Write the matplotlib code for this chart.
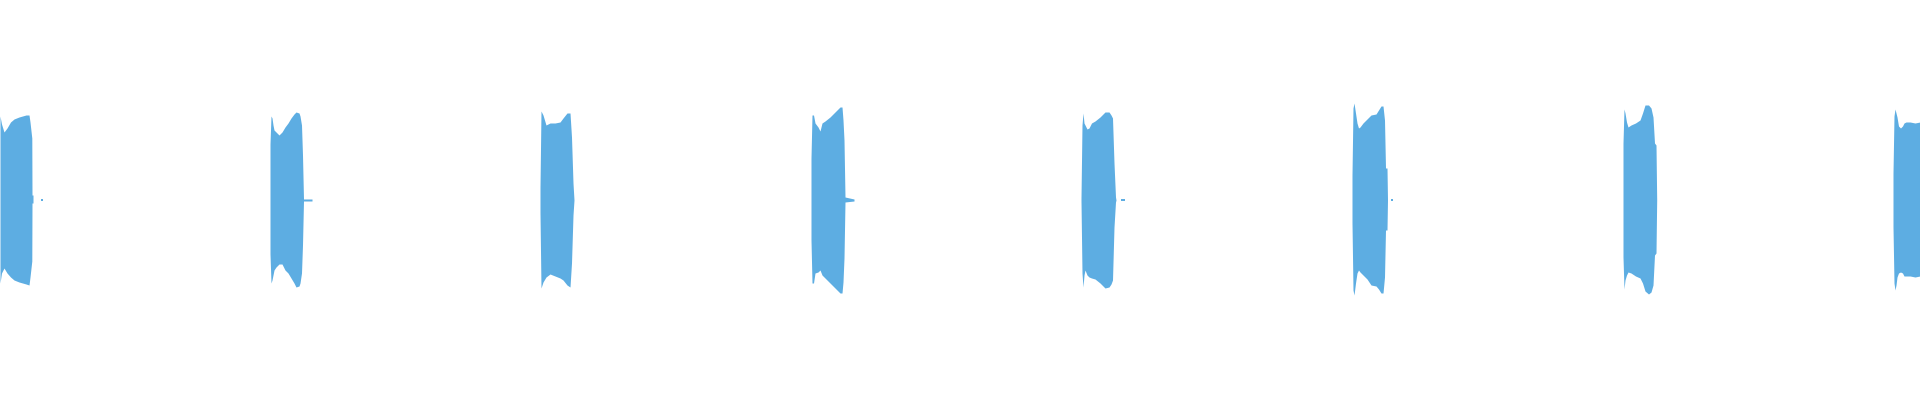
# Огибающая звуковой дорожки: восемь коротких всплесков сигнала

import matplotlib.pyplot as plt

# Данные: номер кадра (шаг 5 мс) и верхняя / нижняя огибающая амплитуды
t1 = [0, 1.5, 4, 7, 10.5, 14, 19, 26, 29, 30, 31.8, 32, 33]
top1 = [0.84, 0.76, 0.68, 0.72, 0.78, 0.81, 0.83, 0.85, 0.85, 0.78, 0.62, 0.05, 0.05]
bot1 = [-0.83, -0.73, -0.68, -0.73, -0.77, -0.80, -0.82, -0.84, -0.85, -0.77, -0.61, -0.03, -0.03]

t2 = [270, 271, 272, 273, 274, 276, 279, 282, 285, 288, 291, 294, 296, 299, 300, 301.5, 302.5, 303.5, 312]
top2 = [0.56, 0.84, 0.82, 0.75, 0.70, 0.68, 0.65, 0.68, 0.73, 0.77, 0.82, 0.86, 0.88, 0.87, 0.84, 0.75, 0.45, 0.01, 0.01]
bot2 = [-0.54, -0.83, -0.80, -0.75, -0.70, -0.67, -0.64, -0.64, -0.70, -0.73, -0.78, -0.83, -0.87, -0.86, -0.83, -0.73, -0.45, -0.01, -0.01]

t3 = [540, 541, 543, 546, 550, 555, 560, 563, 567, 570, 571.5, 573, 574]
top3 = [0.13, 0.89, 0.85, 0.75, 0.77, 0.77, 0.78, 0.82, 0.87, 0.87, 0.63, 0.17, 0.0]
bot3 = [-0.13, -0.88, -0.82, -0.77, -0.74, -0.76, -0.78, -0.80, -0.85, -0.87, -0.63, -0.15, 0.0]

t4 = [811, 812, 813.5, 815, 818, 820, 822, 825, 830, 835, 840, 842, 843, 844, 845, 854]
top4 = [0.42, 0.85, 0.85, 0.77, 0.73, 0.69, 0.77, 0.79, 0.83, 0.88, 0.93, 0.93, 0.80, 0.60, 0.03, 0.01]
bot4 = [-0.40, -0.83, -0.83, -0.73, -0.72, -0.70, -0.75, -0.78, -0.83, -0.88, -0.93, -0.93, -0.82, -0.58, -0.02, -0.01]

t5 = [1081, 1082, 1083, 1084, 1085, 1087, 1089, 1091.5, 1095, 1100, 1105, 1109, 1111, 1112.5, 1114, 1115.5, 1116]
top5 = [0.02, 0.75, 0.87, 0.77, 0.75, 0.71, 0.72, 0.77, 0.79, 0.83, 0.88, 0.88, 0.85, 0.82, 0.37, 0.03, 0.0]
bot5 = [-0.01, -0.73, -0.87, -0.75, -0.70, -0.75, -0.77, -0.78, -0.79, -0.83, -0.88, -0.87, -0.84, -0.80, -0.27, -0.02, 0.0]

t6 = [1352, 1353, 1354, 1355.5, 1357, 1358.5, 1360, 1363, 1367, 1371, 1376, 1378.5, 1381, 1383, 1384.5, 1385.5, 1387, 1387.5]
top6 = [0.25, 0.92, 0.97, 0.87, 0.77, 0.72, 0.73, 0.77, 0.81, 0.85, 0.86, 0.90, 0.94, 0.94, 0.80, 0.32, 0.32, 0.0]
bot6 = [-0.23, -0.90, -0.95, -0.83, -0.73, -0.70, -0.72, -0.75, -0.79, -0.85, -0.86, -0.89, -0.93, -0.93, -0.77, -0.30, -0.30, 0.0]

t7 = [1623, 1624, 1625, 1626.5, 1628, 1631, 1635.5, 1640, 1642.5, 1645, 1648.5, 1651, 1653, 1654.5, 1656, 1656.7]
top7 = [0.57, 0.91, 0.87, 0.78, 0.73, 0.75, 0.77, 0.80, 0.87, 0.95, 0.95, 0.92, 0.83, 0.57, 0.55, 0.0]
bot7 = [-0.57, -0.89, -0.80, -0.75, -0.72, -0.73, -0.76, -0.78, -0.83, -0.91, -0.94, -0.92, -0.85, -0.55, -0.53, 0.0]

t8 = [1893, 1894, 1895, 1896, 1897, 1898.5, 1900.5, 1902.5, 1904, 1906, 1910, 1915, 1920]
top8 = [0.27, 0.84, 0.91, 0.87, 0.83, 0.74, 0.72, 0.74, 0.77, 0.78, 0.78, 0.77, 0.78]
bot8 = [-0.27, -0.83, -0.90, -0.85, -0.77, -0.73, -0.72, -0.73, -0.76, -0.76, -0.76, -0.77, -0.76]

# Одиночные слабые отсчёты между всплесками
dots_t = [41, 1121, 1123, 1391]
dots_a = [0.01, 0.01, 0.01, 0.01]

bursts = [(t1, top1, bot1), (t2, top2, bot2), (t3, top3, bot3), (t4, top4, bot4),
          (t5, top5, bot5), (t6, top6, bot6), (t7, top7, bot7), (t8, top8, bot8)]

color = '#5DADE2'

fig = plt.figure(figsize=(19.2, 4), dpi=100)
ax = fig.add_axes([0, 0, 1, 1])

for t, top, bot in bursts:
    ax.fill_between(t, bot, top, color=color, linewidth=0)

for t, a in zip(dots_t, dots_a):
    ax.fill_between([t, t + 1.5], [-a, -a], [a, a], color=color, linewidth=0)

ax.set_xlim(0, 1920)
ax.set_ylim(-2, 2)
ax.axis('off')

fig.savefig('out.png', dpi=100, facecolor='white')
